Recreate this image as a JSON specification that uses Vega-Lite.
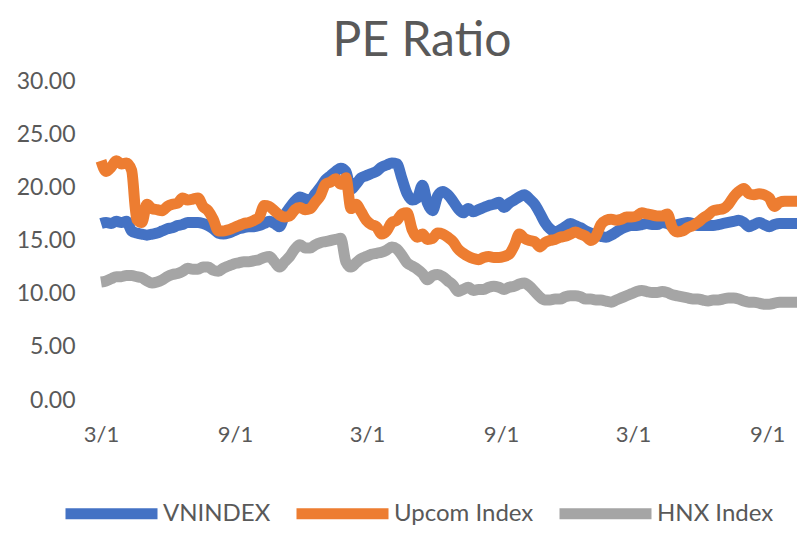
{
  "$schema": "https://vega.github.io/schema/vega-lite/v6.json",
  "width": 696,
  "height": 319,
  "autosize": {"type": "none"},
  "padding": {"left": 101, "top": 81, "right": 14, "bottom": 146},
  "background": "white",
  "title": {
    "text": "PE Ratio",
    "font": "Lato",
    "fontSize": 48,
    "fontWeight": "normal",
    "color": "#595959",
    "anchor": "middle",
    "frame": "group",
    "dx": -27,
    "offset": 4
  },
  "config": {
    "view": {"stroke": null},
    "axis": {"labelFont": "Lato", "labelColor": "#595959", "domain": false, "ticks": false, "grid": false, "title": null},
    "legend": {"labelFont": "Lato"}
  },
  "data": {
    "values": [
{"date":"2017-03-01","series":"VNINDEX","pe":16.6},{"date":"2017-03-08","series":"VNINDEX","pe":16.7},{"date":"2017-03-15","series":"VNINDEX","pe":16.6},{"date":"2017-03-22","series":"VNINDEX","pe":16.8},{"date":"2017-03-29","series":"VNINDEX","pe":16.7},{"date":"2017-04-05","series":"VNINDEX","pe":16.8},{"date":"2017-04-12","series":"VNINDEX","pe":15.9},{"date":"2017-04-19","series":"VNINDEX","pe":15.7},{"date":"2017-04-26","series":"VNINDEX","pe":15.6},{"date":"2017-05-03","series":"VNINDEX","pe":15.5},{"date":"2017-05-10","series":"VNINDEX","pe":15.6},{"date":"2017-05-17","series":"VNINDEX","pe":15.7},{"date":"2017-05-24","series":"VNINDEX","pe":15.9},{"date":"2017-05-31","series":"VNINDEX","pe":16.1},{"date":"2017-06-07","series":"VNINDEX","pe":16.2},{"date":"2017-06-14","series":"VNINDEX","pe":16.4},{"date":"2017-06-21","series":"VNINDEX","pe":16.5},{"date":"2017-06-28","series":"VNINDEX","pe":16.7},{"date":"2017-07-05","series":"VNINDEX","pe":16.7},{"date":"2017-07-12","series":"VNINDEX","pe":16.7},{"date":"2017-07-19","series":"VNINDEX","pe":16.6},{"date":"2017-07-26","series":"VNINDEX","pe":16.4},{"date":"2017-08-02","series":"VNINDEX","pe":16.1},{"date":"2017-08-09","series":"VNINDEX","pe":15.7},{"date":"2017-08-16","series":"VNINDEX","pe":15.6},{"date":"2017-08-23","series":"VNINDEX","pe":15.7},{"date":"2017-08-30","series":"VNINDEX","pe":15.9},{"date":"2017-09-06","series":"VNINDEX","pe":16.1},{"date":"2017-09-13","series":"VNINDEX","pe":16.2},{"date":"2017-09-20","series":"VNINDEX","pe":16.3},{"date":"2017-09-27","series":"VNINDEX","pe":16.3},{"date":"2017-10-04","series":"VNINDEX","pe":16.4},{"date":"2017-10-11","series":"VNINDEX","pe":16.6},{"date":"2017-10-18","series":"VNINDEX","pe":16.8},{"date":"2017-10-25","series":"VNINDEX","pe":16.6},{"date":"2017-11-01","series":"VNINDEX","pe":16.3},{"date":"2017-11-08","series":"VNINDEX","pe":17.4},{"date":"2017-11-15","series":"VNINDEX","pe":18.1},{"date":"2017-11-22","series":"VNINDEX","pe":18.7},{"date":"2017-11-29","series":"VNINDEX","pe":19.1},{"date":"2017-12-06","series":"VNINDEX","pe":18.9},{"date":"2017-12-13","series":"VNINDEX","pe":18.8},{"date":"2017-12-20","series":"VNINDEX","pe":19.4},{"date":"2017-12-27","series":"VNINDEX","pe":20.0},{"date":"2018-01-03","series":"VNINDEX","pe":20.7},{"date":"2018-01-10","series":"VNINDEX","pe":21.1},{"date":"2018-01-17","series":"VNINDEX","pe":21.5},{"date":"2018-01-24","series":"VNINDEX","pe":21.8},{"date":"2018-01-31","series":"VNINDEX","pe":21.5},{"date":"2018-02-07","series":"VNINDEX","pe":19.8},{"date":"2018-02-14","series":"VNINDEX","pe":20.3},{"date":"2018-02-21","series":"VNINDEX","pe":20.9},{"date":"2018-02-28","series":"VNINDEX","pe":21.1},{"date":"2018-03-07","series":"VNINDEX","pe":21.3},{"date":"2018-03-14","series":"VNINDEX","pe":21.5},{"date":"2018-03-21","series":"VNINDEX","pe":21.9},{"date":"2018-03-28","series":"VNINDEX","pe":22.1},{"date":"2018-04-04","series":"VNINDEX","pe":22.3},{"date":"2018-04-11","series":"VNINDEX","pe":22.2},{"date":"2018-04-18","series":"VNINDEX","pe":20.8},{"date":"2018-04-25","series":"VNINDEX","pe":19.4},{"date":"2018-05-02","series":"VNINDEX","pe":18.8},{"date":"2018-05-09","series":"VNINDEX","pe":19.0},{"date":"2018-05-16","series":"VNINDEX","pe":20.2},{"date":"2018-05-23","series":"VNINDEX","pe":18.5},{"date":"2018-05-30","series":"VNINDEX","pe":17.8},{"date":"2018-06-06","series":"VNINDEX","pe":19.2},{"date":"2018-06-13","series":"VNINDEX","pe":19.6},{"date":"2018-06-20","series":"VNINDEX","pe":19.3},{"date":"2018-06-27","series":"VNINDEX","pe":18.7},{"date":"2018-07-04","series":"VNINDEX","pe":18.0},{"date":"2018-07-11","series":"VNINDEX","pe":17.6},{"date":"2018-07-18","series":"VNINDEX","pe":18.0},{"date":"2018-07-25","series":"VNINDEX","pe":17.7},{"date":"2018-08-01","series":"VNINDEX","pe":17.9},{"date":"2018-08-08","series":"VNINDEX","pe":18.1},{"date":"2018-08-15","series":"VNINDEX","pe":18.3},{"date":"2018-08-22","series":"VNINDEX","pe":18.4},{"date":"2018-08-29","series":"VNINDEX","pe":18.6},{"date":"2018-09-05","series":"VNINDEX","pe":18.1},{"date":"2018-09-12","series":"VNINDEX","pe":18.5},{"date":"2018-09-19","series":"VNINDEX","pe":18.8},{"date":"2018-09-26","series":"VNINDEX","pe":19.1},{"date":"2018-10-03","series":"VNINDEX","pe":19.3},{"date":"2018-10-10","series":"VNINDEX","pe":18.9},{"date":"2018-10-17","series":"VNINDEX","pe":18.4},{"date":"2018-10-24","series":"VNINDEX","pe":17.6},{"date":"2018-10-31","series":"VNINDEX","pe":16.7},{"date":"2018-11-07","series":"VNINDEX","pe":16.1},{"date":"2018-11-14","series":"VNINDEX","pe":15.8},{"date":"2018-11-21","series":"VNINDEX","pe":16.0},{"date":"2018-11-28","series":"VNINDEX","pe":16.3},{"date":"2018-12-05","series":"VNINDEX","pe":16.6},{"date":"2018-12-12","series":"VNINDEX","pe":16.4},{"date":"2018-12-19","series":"VNINDEX","pe":16.2},{"date":"2018-12-26","series":"VNINDEX","pe":15.9},{"date":"2019-01-02","series":"VNINDEX","pe":15.7},{"date":"2019-01-09","series":"VNINDEX","pe":15.5},{"date":"2019-01-16","series":"VNINDEX","pe":15.4},{"date":"2019-01-23","series":"VNINDEX","pe":15.3},{"date":"2019-01-30","series":"VNINDEX","pe":15.5},{"date":"2019-02-06","series":"VNINDEX","pe":15.8},{"date":"2019-02-13","series":"VNINDEX","pe":16.1},{"date":"2019-02-20","series":"VNINDEX","pe":16.3},{"date":"2019-02-27","series":"VNINDEX","pe":16.4},{"date":"2019-03-06","series":"VNINDEX","pe":16.4},{"date":"2019-03-13","series":"VNINDEX","pe":16.5},{"date":"2019-03-20","series":"VNINDEX","pe":16.6},{"date":"2019-03-27","series":"VNINDEX","pe":16.5},{"date":"2019-04-03","series":"VNINDEX","pe":16.5},{"date":"2019-04-10","series":"VNINDEX","pe":16.7},{"date":"2019-04-17","series":"VNINDEX","pe":16.6},{"date":"2019-04-24","series":"VNINDEX","pe":16.4},{"date":"2019-05-01","series":"VNINDEX","pe":16.5},{"date":"2019-05-08","series":"VNINDEX","pe":16.6},{"date":"2019-05-15","series":"VNINDEX","pe":16.7},{"date":"2019-05-22","series":"VNINDEX","pe":16.6},{"date":"2019-05-29","series":"VNINDEX","pe":16.4},{"date":"2019-06-05","series":"VNINDEX","pe":16.4},{"date":"2019-06-12","series":"VNINDEX","pe":16.4},{"date":"2019-06-19","series":"VNINDEX","pe":16.4},{"date":"2019-06-26","series":"VNINDEX","pe":16.5},{"date":"2019-07-03","series":"VNINDEX","pe":16.6},{"date":"2019-07-10","series":"VNINDEX","pe":16.7},{"date":"2019-07-17","series":"VNINDEX","pe":16.8},{"date":"2019-07-24","series":"VNINDEX","pe":16.9},{"date":"2019-07-31","series":"VNINDEX","pe":16.7},{"date":"2019-08-07","series":"VNINDEX","pe":16.3},{"date":"2019-08-14","series":"VNINDEX","pe":16.5},{"date":"2019-08-21","series":"VNINDEX","pe":16.7},{"date":"2019-08-28","series":"VNINDEX","pe":16.5},{"date":"2019-09-04","series":"VNINDEX","pe":16.3},{"date":"2019-09-11","series":"VNINDEX","pe":16.5},{"date":"2019-09-18","series":"VNINDEX","pe":16.6},{"date":"2019-09-25","series":"VNINDEX","pe":16.6},{"date":"2019-10-02","series":"VNINDEX","pe":16.6},{"date":"2019-10-09","series":"VNINDEX","pe":16.6},{"date":"2019-10-12","series":"VNINDEX","pe":16.6},
{"date":"2017-03-01","series":"Upcom Index","pe":22.5},{"date":"2017-03-08","series":"Upcom Index","pe":21.5},{"date":"2017-03-15","series":"Upcom Index","pe":21.9},{"date":"2017-03-22","series":"Upcom Index","pe":22.5},{"date":"2017-03-29","series":"Upcom Index","pe":22.2},{"date":"2017-04-05","series":"Upcom Index","pe":22.3},{"date":"2017-04-12","series":"Upcom Index","pe":21.6},{"date":"2017-04-19","series":"Upcom Index","pe":17.0},{"date":"2017-04-26","series":"Upcom Index","pe":16.7},{"date":"2017-05-03","series":"Upcom Index","pe":18.4},{"date":"2017-05-10","series":"Upcom Index","pe":18.0},{"date":"2017-05-17","series":"Upcom Index","pe":17.9},{"date":"2017-05-24","series":"Upcom Index","pe":17.8},{"date":"2017-05-31","series":"Upcom Index","pe":18.2},{"date":"2017-06-07","series":"Upcom Index","pe":18.4},{"date":"2017-06-14","series":"Upcom Index","pe":18.5},{"date":"2017-06-21","series":"Upcom Index","pe":19.0},{"date":"2017-06-28","series":"Upcom Index","pe":18.8},{"date":"2017-07-05","series":"Upcom Index","pe":18.9},{"date":"2017-07-12","series":"Upcom Index","pe":19.0},{"date":"2017-07-19","series":"Upcom Index","pe":18.2},{"date":"2017-07-26","series":"Upcom Index","pe":17.8},{"date":"2017-08-02","series":"Upcom Index","pe":17.0},{"date":"2017-08-09","series":"Upcom Index","pe":15.9},{"date":"2017-08-16","series":"Upcom Index","pe":15.9},{"date":"2017-08-23","series":"Upcom Index","pe":16.0},{"date":"2017-08-30","series":"Upcom Index","pe":16.2},{"date":"2017-09-06","series":"Upcom Index","pe":16.4},{"date":"2017-09-13","series":"Upcom Index","pe":16.6},{"date":"2017-09-20","series":"Upcom Index","pe":16.7},{"date":"2017-09-27","series":"Upcom Index","pe":16.9},{"date":"2017-10-04","series":"Upcom Index","pe":17.2},{"date":"2017-10-11","series":"Upcom Index","pe":18.3},{"date":"2017-10-18","series":"Upcom Index","pe":18.2},{"date":"2017-10-25","series":"Upcom Index","pe":17.8},{"date":"2017-11-01","series":"Upcom Index","pe":17.4},{"date":"2017-11-08","series":"Upcom Index","pe":17.2},{"date":"2017-11-15","series":"Upcom Index","pe":17.3},{"date":"2017-11-22","series":"Upcom Index","pe":17.9},{"date":"2017-11-29","series":"Upcom Index","pe":18.1},{"date":"2017-12-06","series":"Upcom Index","pe":17.9},{"date":"2017-12-13","series":"Upcom Index","pe":18.0},{"date":"2017-12-20","series":"Upcom Index","pe":18.6},{"date":"2017-12-27","series":"Upcom Index","pe":19.2},{"date":"2018-01-03","series":"Upcom Index","pe":20.3},{"date":"2018-01-10","series":"Upcom Index","pe":20.5},{"date":"2018-01-17","series":"Upcom Index","pe":20.8},{"date":"2018-01-24","series":"Upcom Index","pe":20.3},{"date":"2018-01-31","series":"Upcom Index","pe":20.9},{"date":"2018-02-07","series":"Upcom Index","pe":18.0},{"date":"2018-02-14","series":"Upcom Index","pe":18.4},{"date":"2018-02-21","series":"Upcom Index","pe":17.7},{"date":"2018-02-28","series":"Upcom Index","pe":16.9},{"date":"2018-03-07","series":"Upcom Index","pe":16.5},{"date":"2018-03-14","series":"Upcom Index","pe":16.3},{"date":"2018-03-21","series":"Upcom Index","pe":15.6},{"date":"2018-03-28","series":"Upcom Index","pe":15.9},{"date":"2018-04-04","series":"Upcom Index","pe":16.7},{"date":"2018-04-11","series":"Upcom Index","pe":16.9},{"date":"2018-04-18","series":"Upcom Index","pe":17.5},{"date":"2018-04-25","series":"Upcom Index","pe":17.6},{"date":"2018-05-02","series":"Upcom Index","pe":16.0},{"date":"2018-05-09","series":"Upcom Index","pe":15.3},{"date":"2018-05-16","series":"Upcom Index","pe":15.6},{"date":"2018-05-23","series":"Upcom Index","pe":15.1},{"date":"2018-05-30","series":"Upcom Index","pe":15.2},{"date":"2018-06-06","series":"Upcom Index","pe":15.7},{"date":"2018-06-13","series":"Upcom Index","pe":15.6},{"date":"2018-06-20","series":"Upcom Index","pe":15.3},{"date":"2018-06-27","series":"Upcom Index","pe":14.9},{"date":"2018-07-04","series":"Upcom Index","pe":14.2},{"date":"2018-07-11","series":"Upcom Index","pe":13.8},{"date":"2018-07-18","series":"Upcom Index","pe":13.5},{"date":"2018-07-25","series":"Upcom Index","pe":13.3},{"date":"2018-08-01","series":"Upcom Index","pe":13.2},{"date":"2018-08-08","series":"Upcom Index","pe":13.4},{"date":"2018-08-15","series":"Upcom Index","pe":13.5},{"date":"2018-08-22","series":"Upcom Index","pe":13.4},{"date":"2018-08-29","series":"Upcom Index","pe":13.4},{"date":"2018-09-05","series":"Upcom Index","pe":13.5},{"date":"2018-09-12","series":"Upcom Index","pe":13.7},{"date":"2018-09-19","series":"Upcom Index","pe":14.5},{"date":"2018-09-26","series":"Upcom Index","pe":15.6},{"date":"2018-10-03","series":"Upcom Index","pe":15.2},{"date":"2018-10-10","series":"Upcom Index","pe":15.0},{"date":"2018-10-17","series":"Upcom Index","pe":14.9},{"date":"2018-10-24","series":"Upcom Index","pe":14.4},{"date":"2018-10-31","series":"Upcom Index","pe":14.8},{"date":"2018-11-07","series":"Upcom Index","pe":15.0},{"date":"2018-11-14","series":"Upcom Index","pe":15.1},{"date":"2018-11-21","series":"Upcom Index","pe":15.3},{"date":"2018-11-28","series":"Upcom Index","pe":15.4},{"date":"2018-12-05","series":"Upcom Index","pe":15.6},{"date":"2018-12-12","series":"Upcom Index","pe":15.8},{"date":"2018-12-19","series":"Upcom Index","pe":15.6},{"date":"2018-12-26","series":"Upcom Index","pe":15.4},{"date":"2019-01-02","series":"Upcom Index","pe":15.0},{"date":"2019-01-09","series":"Upcom Index","pe":15.4},{"date":"2019-01-16","series":"Upcom Index","pe":16.5},{"date":"2019-01-23","series":"Upcom Index","pe":16.9},{"date":"2019-01-30","series":"Upcom Index","pe":17.0},{"date":"2019-02-06","series":"Upcom Index","pe":16.9},{"date":"2019-02-13","series":"Upcom Index","pe":17.0},{"date":"2019-02-20","series":"Upcom Index","pe":17.2},{"date":"2019-02-27","series":"Upcom Index","pe":17.2},{"date":"2019-03-06","series":"Upcom Index","pe":17.3},{"date":"2019-03-13","series":"Upcom Index","pe":17.6},{"date":"2019-03-20","series":"Upcom Index","pe":17.5},{"date":"2019-03-27","series":"Upcom Index","pe":17.4},{"date":"2019-04-03","series":"Upcom Index","pe":17.3},{"date":"2019-04-10","series":"Upcom Index","pe":17.3},{"date":"2019-04-17","series":"Upcom Index","pe":17.5},{"date":"2019-04-24","series":"Upcom Index","pe":16.2},{"date":"2019-05-01","series":"Upcom Index","pe":15.8},{"date":"2019-05-08","series":"Upcom Index","pe":15.9},{"date":"2019-05-15","series":"Upcom Index","pe":16.2},{"date":"2019-05-22","series":"Upcom Index","pe":16.4},{"date":"2019-05-29","series":"Upcom Index","pe":16.7},{"date":"2019-06-05","series":"Upcom Index","pe":17.1},{"date":"2019-06-12","series":"Upcom Index","pe":17.4},{"date":"2019-06-19","series":"Upcom Index","pe":17.8},{"date":"2019-06-26","series":"Upcom Index","pe":17.9},{"date":"2019-07-03","series":"Upcom Index","pe":18.0},{"date":"2019-07-10","series":"Upcom Index","pe":18.4},{"date":"2019-07-17","series":"Upcom Index","pe":19.1},{"date":"2019-07-24","series":"Upcom Index","pe":19.6},{"date":"2019-07-31","series":"Upcom Index","pe":19.9},{"date":"2019-08-07","series":"Upcom Index","pe":19.4},{"date":"2019-08-14","series":"Upcom Index","pe":19.3},{"date":"2019-08-21","series":"Upcom Index","pe":19.4},{"date":"2019-08-28","series":"Upcom Index","pe":19.3},{"date":"2019-09-04","series":"Upcom Index","pe":19.0},{"date":"2019-09-11","series":"Upcom Index","pe":18.2},{"date":"2019-09-18","series":"Upcom Index","pe":18.6},{"date":"2019-09-25","series":"Upcom Index","pe":18.7},{"date":"2019-10-02","series":"Upcom Index","pe":18.7},{"date":"2019-10-09","series":"Upcom Index","pe":18.7},{"date":"2019-10-12","series":"Upcom Index","pe":18.7},
{"date":"2017-03-01","series":"HNX Index","pe":11.1},{"date":"2017-03-08","series":"HNX Index","pe":11.2},{"date":"2017-03-15","series":"HNX Index","pe":11.4},{"date":"2017-03-22","series":"HNX Index","pe":11.6},{"date":"2017-03-29","series":"HNX Index","pe":11.6},{"date":"2017-04-05","series":"HNX Index","pe":11.7},{"date":"2017-04-12","series":"HNX Index","pe":11.7},{"date":"2017-04-19","series":"HNX Index","pe":11.6},{"date":"2017-04-26","series":"HNX Index","pe":11.5},{"date":"2017-05-03","series":"HNX Index","pe":11.2},{"date":"2017-05-10","series":"HNX Index","pe":11.0},{"date":"2017-05-17","series":"HNX Index","pe":11.1},{"date":"2017-05-24","series":"HNX Index","pe":11.3},{"date":"2017-05-31","series":"HNX Index","pe":11.6},{"date":"2017-06-07","series":"HNX Index","pe":11.8},{"date":"2017-06-14","series":"HNX Index","pe":11.9},{"date":"2017-06-21","series":"HNX Index","pe":12.1},{"date":"2017-06-28","series":"HNX Index","pe":12.4},{"date":"2017-07-05","series":"HNX Index","pe":12.3},{"date":"2017-07-12","series":"HNX Index","pe":12.3},{"date":"2017-07-19","series":"HNX Index","pe":12.5},{"date":"2017-07-26","series":"HNX Index","pe":12.5},{"date":"2017-08-02","series":"HNX Index","pe":12.2},{"date":"2017-08-09","series":"HNX Index","pe":12.1},{"date":"2017-08-16","series":"HNX Index","pe":12.4},{"date":"2017-08-23","series":"HNX Index","pe":12.6},{"date":"2017-08-30","series":"HNX Index","pe":12.8},{"date":"2017-09-06","series":"HNX Index","pe":12.9},{"date":"2017-09-13","series":"HNX Index","pe":13.0},{"date":"2017-09-20","series":"HNX Index","pe":13.0},{"date":"2017-09-27","series":"HNX Index","pe":13.1},{"date":"2017-10-04","series":"HNX Index","pe":13.2},{"date":"2017-10-11","series":"HNX Index","pe":13.4},{"date":"2017-10-18","series":"HNX Index","pe":13.5},{"date":"2017-10-25","series":"HNX Index","pe":13.0},{"date":"2017-11-01","series":"HNX Index","pe":12.5},{"date":"2017-11-08","series":"HNX Index","pe":13.0},{"date":"2017-11-15","series":"HNX Index","pe":13.5},{"date":"2017-11-22","series":"HNX Index","pe":14.2},{"date":"2017-11-29","series":"HNX Index","pe":14.6},{"date":"2017-12-06","series":"HNX Index","pe":14.3},{"date":"2017-12-13","series":"HNX Index","pe":14.3},{"date":"2017-12-20","series":"HNX Index","pe":14.6},{"date":"2017-12-27","series":"HNX Index","pe":14.8},{"date":"2018-01-03","series":"HNX Index","pe":14.9},{"date":"2018-01-10","series":"HNX Index","pe":15.0},{"date":"2018-01-17","series":"HNX Index","pe":15.1},{"date":"2018-01-24","series":"HNX Index","pe":15.2},{"date":"2018-01-31","series":"HNX Index","pe":13.0},{"date":"2018-02-07","series":"HNX Index","pe":12.5},{"date":"2018-02-14","series":"HNX Index","pe":12.9},{"date":"2018-02-21","series":"HNX Index","pe":13.3},{"date":"2018-02-28","series":"HNX Index","pe":13.5},{"date":"2018-03-07","series":"HNX Index","pe":13.7},{"date":"2018-03-14","series":"HNX Index","pe":13.8},{"date":"2018-03-21","series":"HNX Index","pe":13.9},{"date":"2018-03-28","series":"HNX Index","pe":14.1},{"date":"2018-04-04","series":"HNX Index","pe":14.4},{"date":"2018-04-11","series":"HNX Index","pe":14.2},{"date":"2018-04-18","series":"HNX Index","pe":13.6},{"date":"2018-04-25","series":"HNX Index","pe":12.9},{"date":"2018-05-02","series":"HNX Index","pe":12.6},{"date":"2018-05-09","series":"HNX Index","pe":12.3},{"date":"2018-05-16","series":"HNX Index","pe":11.9},{"date":"2018-05-23","series":"HNX Index","pe":11.3},{"date":"2018-05-30","series":"HNX Index","pe":11.7},{"date":"2018-06-06","series":"HNX Index","pe":11.8},{"date":"2018-06-13","series":"HNX Index","pe":11.6},{"date":"2018-06-20","series":"HNX Index","pe":11.2},{"date":"2018-06-27","series":"HNX Index","pe":10.8},{"date":"2018-07-04","series":"HNX Index","pe":10.2},{"date":"2018-07-11","series":"HNX Index","pe":10.4},{"date":"2018-07-18","series":"HNX Index","pe":10.6},{"date":"2018-07-25","series":"HNX Index","pe":10.3},{"date":"2018-08-01","series":"HNX Index","pe":10.4},{"date":"2018-08-08","series":"HNX Index","pe":10.4},{"date":"2018-08-15","series":"HNX Index","pe":10.6},{"date":"2018-08-22","series":"HNX Index","pe":10.7},{"date":"2018-08-29","series":"HNX Index","pe":10.6},{"date":"2018-09-05","series":"HNX Index","pe":10.4},{"date":"2018-09-12","series":"HNX Index","pe":10.6},{"date":"2018-09-19","series":"HNX Index","pe":10.7},{"date":"2018-09-26","series":"HNX Index","pe":10.9},{"date":"2018-10-03","series":"HNX Index","pe":11.0},{"date":"2018-10-10","series":"HNX Index","pe":10.7},{"date":"2018-10-17","series":"HNX Index","pe":10.2},{"date":"2018-10-24","series":"HNX Index","pe":9.7},{"date":"2018-10-31","series":"HNX Index","pe":9.4},{"date":"2018-11-07","series":"HNX Index","pe":9.4},{"date":"2018-11-14","series":"HNX Index","pe":9.5},{"date":"2018-11-21","series":"HNX Index","pe":9.5},{"date":"2018-11-28","series":"HNX Index","pe":9.7},{"date":"2018-12-05","series":"HNX Index","pe":9.8},{"date":"2018-12-12","series":"HNX Index","pe":9.8},{"date":"2018-12-19","series":"HNX Index","pe":9.7},{"date":"2018-12-26","series":"HNX Index","pe":9.5},{"date":"2019-01-02","series":"HNX Index","pe":9.5},{"date":"2019-01-09","series":"HNX Index","pe":9.4},{"date":"2019-01-16","series":"HNX Index","pe":9.4},{"date":"2019-01-23","series":"HNX Index","pe":9.3},{"date":"2019-01-30","series":"HNX Index","pe":9.2},{"date":"2019-02-06","series":"HNX Index","pe":9.4},{"date":"2019-02-13","series":"HNX Index","pe":9.6},{"date":"2019-02-20","series":"HNX Index","pe":9.8},{"date":"2019-02-27","series":"HNX Index","pe":10.0},{"date":"2019-03-06","series":"HNX Index","pe":10.2},{"date":"2019-03-13","series":"HNX Index","pe":10.3},{"date":"2019-03-20","series":"HNX Index","pe":10.2},{"date":"2019-03-27","series":"HNX Index","pe":10.1},{"date":"2019-04-03","series":"HNX Index","pe":10.1},{"date":"2019-04-10","series":"HNX Index","pe":10.2},{"date":"2019-04-17","series":"HNX Index","pe":10.1},{"date":"2019-04-24","series":"HNX Index","pe":9.9},{"date":"2019-05-01","series":"HNX Index","pe":9.8},{"date":"2019-05-08","series":"HNX Index","pe":9.7},{"date":"2019-05-15","series":"HNX Index","pe":9.6},{"date":"2019-05-22","series":"HNX Index","pe":9.5},{"date":"2019-05-29","series":"HNX Index","pe":9.5},{"date":"2019-06-05","series":"HNX Index","pe":9.4},{"date":"2019-06-12","series":"HNX Index","pe":9.3},{"date":"2019-06-19","series":"HNX Index","pe":9.4},{"date":"2019-06-26","series":"HNX Index","pe":9.4},{"date":"2019-07-03","series":"HNX Index","pe":9.5},{"date":"2019-07-10","series":"HNX Index","pe":9.6},{"date":"2019-07-17","series":"HNX Index","pe":9.6},{"date":"2019-07-24","series":"HNX Index","pe":9.5},{"date":"2019-07-31","series":"HNX Index","pe":9.3},{"date":"2019-08-07","series":"HNX Index","pe":9.2},{"date":"2019-08-14","series":"HNX Index","pe":9.2},{"date":"2019-08-21","series":"HNX Index","pe":9.1},{"date":"2019-08-28","series":"HNX Index","pe":9.0},{"date":"2019-09-04","series":"HNX Index","pe":9.0},{"date":"2019-09-11","series":"HNX Index","pe":9.1},{"date":"2019-09-18","series":"HNX Index","pe":9.2},{"date":"2019-09-25","series":"HNX Index","pe":9.2},{"date":"2019-10-02","series":"HNX Index","pe":9.2},{"date":"2019-10-09","series":"HNX Index","pe":9.2},{"date":"2019-10-12","series":"HNX Index","pe":9.2}
    ]
  },
  "mark": {"type": "line", "strokeWidth": 11, "strokeCap": "butt", "strokeJoin": "round", "interpolate": "monotone"},
  "encoding": {
    "x": {
      "field": "date",
      "type": "temporal",
      "scale": {"domain": ["2017-03-01", "2019-10-12"], "nice": false},
      "axis": {
        "values": ["2017-03-01", "2017-09-01", "2018-03-01", "2018-09-01", "2019-03-01", "2019-09-01"],
        "format": "%-m/%-d",
        "labelFontSize": 22,
        "labelPadding": 24,
        "labelAlign": "center"
      }
    },
    "y": {
      "field": "pe",
      "type": "quantitative",
      "scale": {"domain": [0, 30], "nice": false, "zero": true},
      "axis": {
        "values": [0, 5, 10, 15, 20, 25, 30],
        "format": ".2f",
        "labelFontSize": 23,
        "labelPadding": 26
      }
    },
    "color": {
      "field": "series",
      "type": "nominal",
      "sort": ["VNINDEX", "Upcom Index", "HNX Index"],
      "scale": {"domain": ["VNINDEX", "Upcom Index", "HNX Index"], "range": ["#4472C4", "#ED7D31", "#A5A5A5"]},
      "legend": {
        "title": null,
        "orient": "none",
        "direction": "horizontal",
        "legendX": -41,
        "legendY": 381,
        "symbolType": "stroke",
        "symbolSize": 8464,
        "symbolStrokeWidth": 11,
        "labelFontSize": 24,
        "labelColor": "#595959",
        "labelOffset": 0,
        "columnPadding": 3,
        "padding": 0
      }
    }
  }
}
